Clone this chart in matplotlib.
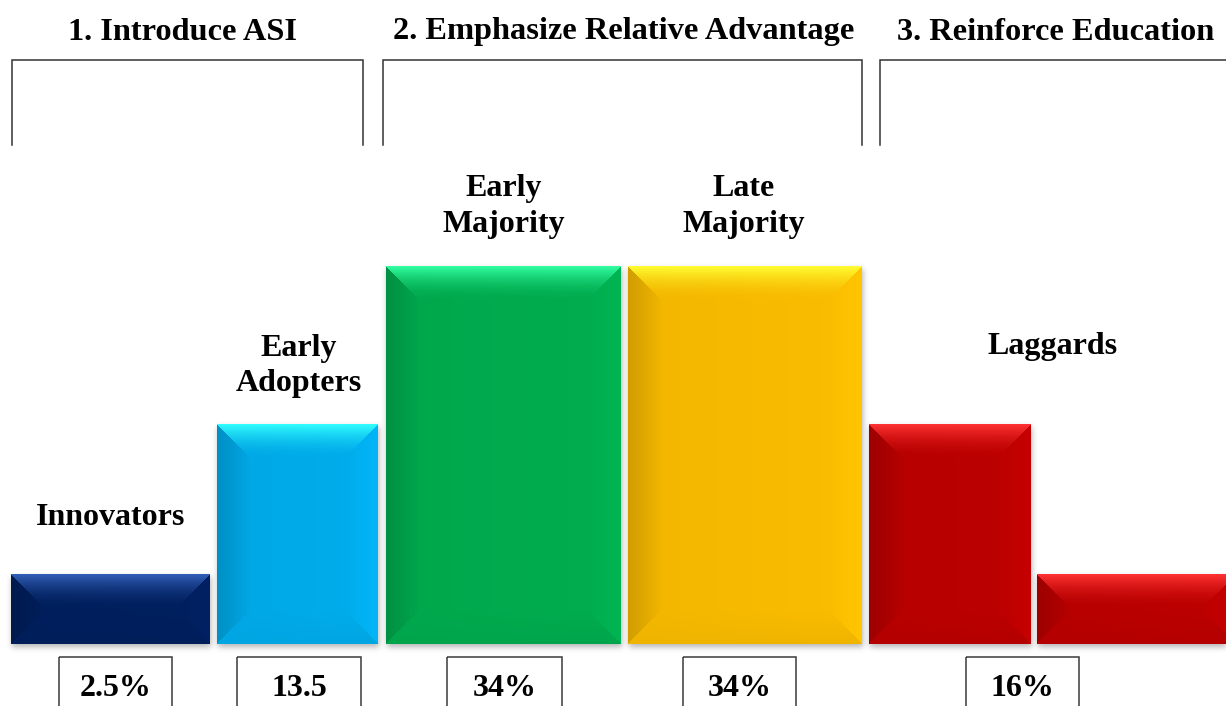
import numpy as np
import matplotlib
matplotlib.use("Agg")
import matplotlib.pyplot as plt
from matplotlib.colors import to_rgb
from matplotlib.patches import Rectangle

# ---------------- data ----------------
segments = ["Innovators", "Early\nAdopters", "Early\nMajority", "Late\nMajority", "Laggards"]
shares = [2.5, 13.5, 34, 34, 16]
share_labels = ["2.5%", "13.5", "34%", "34%", "16%"]
laggard_steps = [13.5, 2.5]          # the laggard share is drawn as two descending steps
stages = ["1. Introduce ASI", "2. Emphasize Relative Advantage", "3. Reinforce Education"]
segment_colors = ["#002060", "#00B0F0", "#00B050", "#FFC000", "#C00000"]

# bars: four segments plus the two laggard steps
bar_values = shares[:4] + laggard_steps
bar_colors = segment_colors[:4] + [segment_colors[4]] * 2

# ---------------- layout (pixels) ----------------
W, H = 1226, 706
BASELINE_PX = 62                      # bar baseline, measured from the bottom edge
bar_left = [11, 217, 386, 628, 869, 1037]
bar_width = [199, 161, 235, 234, 162, 199]
label_x = [110.5, 298.5, 503.5, 744, 1053]
label_ref_bar = [0, 1, 2, 3, 4]       # bar whose top anchors each segment label
label_gap_px = [49, 33, 34, 34, 70]   # label baseline height above that bar top
box_left = [59, 237, 447, 683, 966]
box_right = [172, 361, 562, 796, 1079]
box_top = 657
value_baseline = 696
stage_x = [182, 624, 1056]
stage_baseline = 39.5
bracket_span = [(12, 363), (383, 862), (880, 1240)]
bracket_top, bracket_bottom = 60, 145
BEVEL_PX = 34

SERIF = "Liberation Serif"
LABEL_SIZE = 23
STAGE_SIZE = 23.3

# power scale for the bar heights
P = 0.52
def fwd(v):
    v = np.asarray(v, dtype=float)
    return np.sign(v) * np.abs(v) ** P
def inv(u):
    u = np.asarray(u, dtype=float)
    return np.sign(u) * np.abs(u) ** (1.0 / P)

fig = plt.figure(figsize=(W / 100, H / 100), dpi=100)
fig.patch.set_facecolor("white")

ax = fig.add_axes([0, BASELINE_PX / H, 1, 1 - BASELINE_PX / H])
ax.set_zorder(1)
ax.patch.set_alpha(0)
ax.set_xlim(0, W)
ax.set_yscale("function", functions=(fwd, inv))
ax.set_ylim(0.32, 88.0)
ax.axis("off")

bars = ax.bar(bar_left, bar_values, width=bar_width, align="edge",
              color=bar_colors, linewidth=0, zorder=1)

y_floor = ax.get_ylim()[0]


def bevel_rgba(w, h, base, depth):
    base = np.array(to_rgb(base))
    d = max(1.0, min(depth, h / 2.0, w / 2.0))
    yy, xx = np.mgrid[0:h, 0:w].astype(float) + 0.5
    dist = np.stack([yy, h - yy, xx, w - xx])   # top, bottom, left, right
    side = dist.argmin(0)
    t = np.clip(dist.min(0) / d, 0, 1)
    inside = dist.min(0) < d

    face = base * 0.985
    img = np.empty((h, w, 3))
    # face with a faint left-to-right lift
    lift = (0.965 + 0.035 * (xx / w))[..., None]
    img[:] = np.clip(face * lift, 0, 1)

    hi = np.clip(base * 1.4 + 0.2, 0, 1)
    dark = base * 0.82
    right_c = np.clip(base * 1.03, 0, 1)
    bottom_c = base * 0.94

    def blend(mask, edge_col, prof):
        a = prof[mask][:, None]
        img[mask] = edge_col * a + img[mask] * (1 - a)

    m = inside & (side == 0)
    blend(m, hi, (1 - t) ** 1.8)
    m = inside & (side == 1)
    blend(m, bottom_c, (1 - t))
    m = inside & (side == 2)
    blend(m, dark, (1 - t) ** 0.9)
    m = inside & (side == 3)
    blend(m, right_c, (1 - t))

    rgba = np.ones((h, w, 4))
    rgba[..., :3] = np.clip(img, 0, 1)
    return rgba


def blur(a, sigma):
    r = int(3 * sigma)
    k = np.exp(-0.5 * (np.arange(-r, r + 1) / sigma) ** 2)
    k /= k.sum()
    out = np.zeros_like(a)
    p = np.pad(a, ((0, 0), (r, r)))
    for i, kv in enumerate(k):
        out += kv * p[:, i:i + a.shape[1]]
    p = np.pad(out, ((r, r), (0, 0)))
    out2 = np.zeros_like(a)
    for i, kv in enumerate(k):
        out2 += kv * p[i:i + a.shape[0], :]
    return out2


shadow = np.zeros((H, W))
boxes_px = []
for left, w, v in zip(bar_left, bar_width, bar_values):
    x0, y0 = ax.transData.transform((left, y_floor))
    x1, y1 = ax.transData.transform((left + w, v))
    x0, y0, x1, y1 = int(round(x0)), int(round(y0)), int(round(x1)), int(round(y1))
    boxes_px.append((x0, y0, x1, y1))
    r0, r1 = H - y1 + 3, H - y0 + 3
    shadow[max(r0, 0):min(r1, H), max(x0 + 1, 0):min(x1 + 1, W)] = 1.0

shadow = blur(shadow, 3.0)
sh = np.zeros((H, W, 4))
sh[..., :3] = 0.35
sh[..., 3] = np.clip(shadow * 0.45, 0, 1)
fig.figimage(sh, xo=0, yo=0, origin="upper", zorder=0.5)

for (x0, y0, x1, y1), c in zip(boxes_px, bar_colors):
    img = bevel_rgba(x1 - x0, y1 - y0, c, BEVEL_PX)
    fig.figimage(img, xo=x0, yo=y0, origin="upper", zorder=2)

# segment labels above the bars
for name, lx, ref, gap in zip(segments, label_x, label_ref_bar, label_gap_px):
    ax.annotate(name, xy=(lx, bar_values[ref]), xytext=(0, gap * 72 / 100),
                textcoords="offset points", ha="center", va="baseline",
                fontsize=LABEL_SIZE, fontweight="bold", family=SERIF,
                linespacing=1.28, annotation_clip=False, zorder=5)

# overlay for stage headings and value boxes
ov = fig.add_axes([0, 0, 1, 1])
ov.set_zorder(3)
ov.patch.set_alpha(0)
ov.set_xlim(0, W)
ov.set_ylim(H, 0)
ov.axis("off")

for txt, sx in zip(stages, stage_x):
    ov.text(sx, stage_baseline, txt, ha="center", va="baseline",
            fontsize=STAGE_SIZE, fontweight="bold", family=SERIF)

for l, r in bracket_span:
    ov.plot([l, l, r, r], [bracket_bottom, bracket_top, bracket_top, bracket_bottom],
            color="#333333", lw=1.1, solid_joinstyle="miter")

for lab, l, r in zip(share_labels, box_left, box_right):
    ov.add_patch(Rectangle((l, box_top), r - l, 80, fill=False,
                           edgecolor="#3a3a3a", lw=1.1))
    ov.text((l + r) / 2, value_baseline, lab, ha="center", va="baseline",
            fontsize=LABEL_SIZE, fontweight="bold", family=SERIF)

fig.savefig("out.png", dpi=100, facecolor="white")
